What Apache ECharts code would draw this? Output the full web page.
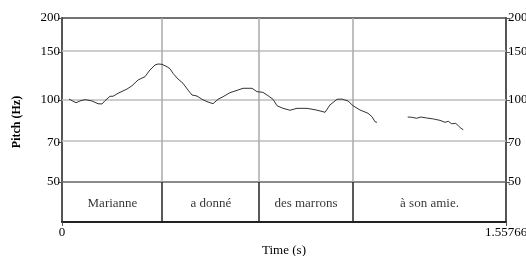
<!DOCTYPE html>
<html>
<head>
<meta charset="utf-8">
<script src="https://cdn.jsdelivr.net/npm/echarts@6/dist/echarts.min.js"></script>
<style>html,body{margin:0;padding:0;background:#fff;}#c{width:526px;height:256px;}</style>
</head>
<body>
<div id="c"></div>
<script>
// ---- data ----
const tMax = 1.55766;
const times1 = [0.0246,0.0316,0.0491,0.0631,0.0807,0.1052,0.1263,0.1403,0.1509,0.1684,0.1789,0.1965,0.2280,0.2456,0.2666,0.2912,0.3087,0.3263,0.3368,0.3508,0.3684,0.3789,0.3894,0.4070,0.4245,0.4420,0.4561,0.4736,0.4911,0.5087,0.5297,0.5473,0.5648,0.5894,0.6139,0.6350,0.6666,0.6841,0.7051,0.7227,0.7402,0.7543,0.7753,0.7999,0.8244,0.8595,0.8876,0.9156,0.9227,0.9402,0.9648,0.9823,1.0033,1.0209,1.0454,1.0735,1.0875,1.0981,1.1051];
const pitch1 = [100.8,100.4,97.7,99.2,100.3,99.2,96.9,96.7,99.4,103.2,103.2,105.8,109.7,112.8,118.4,121.8,128.9,134.4,135.6,135.2,132.5,130.3,125.3,119.4,115.2,108.8,104.3,103.4,100.6,98.6,96.9,100.6,102.8,106.4,108.5,110.4,110.4,107.3,106.7,103.7,100.6,95.3,93.2,91.7,93.2,93.2,92.1,90.6,90.1,95.9,100.6,100.8,99.2,95.3,91.9,89.4,86.8,83.2,82.8];
const times2 = [1.2128,1.2268,1.2444,1.2594,1.2794,1.3026,1.3261,1.3437,1.3552,1.3671,1.3812,1.3903,1.3998,1.4078];
const pitch2 = [86.6,86.4,85.7,86.6,85.9,85.2,84.2,82.8,83.5,81.8,82.1,80.5,78.7,77.8];
const yTicks = [50,70,100,150,200];
const gridHz = [70,100,150];
const xTicks = [0, tMax];
const words = ['Marianne','a donné','des marrons','à son amie.'];
const wordBounds = [0, 0.354, 0.691, 1.021, tMax];

// ---- build ----
const L = Math.log10;
const lineData = [];
times1.forEach((t,i)=>lineData.push([t, L(pitch1[i])]));
lineData.push([1.15, null]);
times2.forEach((t,i)=>lineData.push([t, L(pitch2[i])]));

const wordData = words.map((w,i)=>({value:[(wordBounds[i]+wordBounds[i+1])/2, 0.5], name:w}));
const innerBounds = wordBounds.slice(1, -1);

const FONT = '"Liberation Serif", "Times New Roman", serif';
const axisCol = '#555';

const yLogBase = {
  type:'value', gridIndex:0, min:L(50), max:L(200),
  axisLine:{show:true, onZero:false, lineStyle:{color:axisCol, width:2}},
  axisTick:{show:true, customValues:yTicks.map(L), length:4, lineStyle:{color:axisCol, width:1}},
  axisLabel:{show:true, customValues:yTicks.map(L), margin:2, color:'#000', fontFamily:FONT, fontSize:13,
    formatter:v=>String(Math.round(Math.pow(10,v)))},
  splitLine:{show:false}
};

const chart = echarts.init(document.getElementById('c'), null, {renderer:'canvas'});
chart.setOption({
  animation:false,
  backgroundColor:'#fff',
  grid:[
    {left:62, top:18, width:444, height:164, containLabel:false, outerBoundsMode:'none'},
    {left:62, top:182, width:444, height:40, containLabel:false, outerBoundsMode:'none'}
  ],
  xAxis:[
    {type:'value', gridIndex:0, min:0, max:tMax, position:'top',
     axisLine:{show:true, onZero:false, lineStyle:{color:'#444', width:1.5}}, axisTick:{show:false}, axisLabel:{show:false}, splitLine:{show:false}},
    {type:'value', gridIndex:1, min:0, max:tMax, position:'top',
     axisLine:{show:true, onZero:false, lineStyle:{color:'#666', width:1.5}}, axisTick:{show:false}, axisLabel:{show:false}, splitLine:{show:false}},
    {type:'value', gridIndex:1, min:0, max:tMax, position:'bottom',
     name:'Time (s)', nameLocation:'middle', nameGap:22,
     nameTextStyle:{color:'#000', fontFamily:FONT, fontSize:13},
     axisLine:{show:true, onZero:false, lineStyle:{color:'#222', width:2}},
     axisTick:{show:true, customValues:xTicks, length:4, lineStyle:{color:axisCol}},
     axisLabel:{show:true, customValues:xTicks, margin:4, color:'#000', fontFamily:FONT, fontSize:13,
       formatter:v=>String(v)},
     splitLine:{show:false}}
  ],
  yAxis:[
    Object.assign({}, yLogBase, {position:'left'}),
    Object.assign({}, yLogBase, {position:'right'}),
    {type:'value', gridIndex:1, min:0, max:1, position:'left',
     axisLine:{show:true, onZero:false, lineStyle:{color:axisCol, width:2}}, axisTick:{show:false}, axisLabel:{show:false}, splitLine:{show:false}},
    {type:'value', gridIndex:1, min:0, max:1, position:'right',
     axisLine:{show:true, onZero:false, lineStyle:{color:axisCol, width:2}}, axisTick:{show:false}, axisLabel:{show:false}, splitLine:{show:false}}
  ],
  graphic:[
    {type:'text', x:17, y:122, rotation:Math.PI/2, style:{text:'Pitch (Hz)', font:'bold 12px ' + FONT, fill:'#000', align:'center', verticalAlign:'middle'}}
  ],
  series:[
    {type:'line', xAxisIndex:0, yAxisIndex:0, data:lineData, connectNulls:false, showSymbol:false, symbol:'none',
     lineStyle:{color:'#333', width:1}, z:5,
     markLine:{silent:true, symbol:'none', label:{show:false}, animation:false,
       data:[
         ...gridHz.map(h=>({yAxis:L(h), lineStyle:{color:'#bdbdbd', width:1.5, type:'solid'}})),
         ...innerBounds.map(b=>({xAxis:b, lineStyle:{color:'#aaa', width:1.5, type:'solid'}}))
       ]}},
    {type:'scatter', xAxisIndex:2, yAxisIndex:2, data:wordData, symbolSize:0, silent:true,
     label:{show:true, position:'inside', offset:[0,2], formatter:p=>p.name, color:'#000', fontFamily:FONT, fontSize:13},
     markLine:{silent:true, symbol:'none', label:{show:false}, animation:false,
       data: innerBounds.map(b=>({xAxis:b, lineStyle:{color:'#222', width:1.5, type:'solid'}}))}}
  ]
});
</script>
</body>
</html>
